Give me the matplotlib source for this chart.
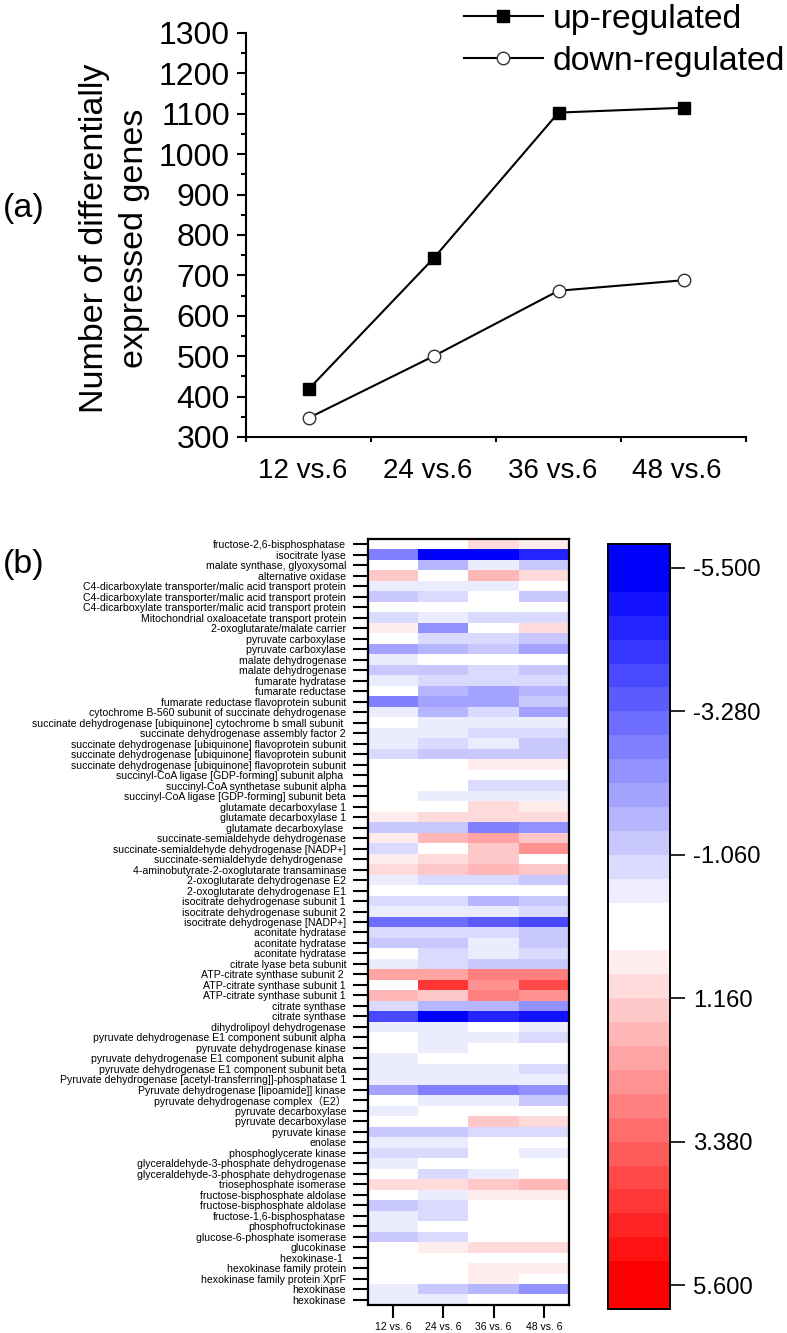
import matplotlib
matplotlib.use("Agg")
import matplotlib.pyplot as plt
import numpy as np
from matplotlib.colors import BoundaryNorm, ListedColormap

plt.rcParams["font.family"] = ["Liberation Sans", "Noto Sans CJK SC", "DejaVu Sans"]

W, H = 787, 1333

# panel a
time_labels = ["12 vs.6", "24 vs.6", "36 vs.6", "48 vs.6"]
up_regulated = [418, 742, 1103, 1115]
down_regulated = [347, 500, 662, 688]
y_ticks = [300, 400, 500, 600, 700, 800, 900, 1000, 1100, 1200, 1300]

# panel b
gene_labels = [
    "fructose-2,6-bisphosphatase", "isocitrate lyase", "malate synthase, glyoxysomal", "alternative oxidase",
    "C4-dicarboxylate transporter/malic acid transport protein", "C4-dicarboxylate transporter/malic acid transport protein",
    "C4-dicarboxylate transporter/malic acid transport protein", "Mitochondrial oxaloacetate transport protein",
    "2-oxoglutarate/malate carrier", "pyruvate carboxylase", "pyruvate carboxylase", "malate dehydrogenase",
    "malate dehydrogenase", "fumarate hydratase", "fumarate reductase", "fumarate reductase flavoprotein subunit",
    "cytochrome B-560 subunit of succinate dehydrogenase", "succinate dehydrogenase [ubiquinone] cytochrome b small subunit ",
    "succinate dehydrogenase assembly factor 2", "succinate dehydrogenase [ubiquinone] flavoprotein subunit",
    "succinate dehydrogenase [ubiquinone] flavoprotein subunit", "succinate dehydrogenase [ubiquinone] flavoprotein subunit",
    "succinyl-CoA ligase [GDP-forming] subunit alpha ", "succinyl-CoA synthetase subunit alpha",
    "succinyl-CoA ligase [GDP-forming] subunit beta", "glutamate decarboxylase 1", "glutamate decarboxylase 1",
    "glutamate decarboxylase ", "succinate-semialdehyde dehydrogenase", "succinate-semialdehyde dehydrogenase [NADP+]",
    "succinate-semialdehyde dehydrogenase ", "4-aminobutyrate-2-oxoglutarate transaminase", "2-oxoglutarate dehydrogenase E2",
    "2-oxoglutarate dehydrogenase E1", "isocitrate dehydrogenase subunit 1", "isocitrate dehydrogenase subunit 2",
    "isocitrate dehydrogenase [NADP+]", "aconitate hydratase", "aconitate hydratase", "aconitate hydratase",
    "citrate lyase beta subunit", "ATP-citrate synthase subunit 2 ", "ATP-citrate synthase subunit 1",
    "ATP-citrate synthase subunit 1", "citrate synthase", "citrate synthase", "dihydrolipoyl dehydrogenase",
    "pyruvate dehydrogenase E1 component subunit alpha", "pyruvate dehydrogenase kinase",
    "pyruvate dehydrogenase E1 component subunit alpha ", "pyruvate dehydrogenase E1 component subunit beta",
    "Pyruvate dehydrogenase [acetyl-transferring]]-phosphatase 1", "Pyruvate dehydrogenase [lipoamide]] kinase",
    "pyruvate dehydrogenase complex\uff08E2\uff09", "pyruvate decarboxylase", "pyruvate decarboxylase", "pyruvate kinase",
    "enolase", "phosphoglycerate kinase", "glyceraldehyde-3-phosphate dehydrogenase",
    "glyceraldehyde-3-phosphate dehydrogenase", "triosephosphate isomerase", "fructose-bisphosphate aldolase",
    "fructose-bisphosphate aldolase", "fructose-1,6-bisphosphatase", "phosphofructokinase", "glucose-6-phosphate isomerase",
    "glucokinase", "hexokinase-1 ", "hexokinase family protein", "hexokinase family protein XprF", "hexokinase", "hexokinase",
]
heat_columns = ["12 vs. 6", "24 vs. 6", "36 vs. 6", "48 vs. 6"]
h12 = [0, -2.7, 0, 1.3, -0.5, -1.2, 0, -0.9, 0.6, 0, -2.0, -0.5, -1.2, -0.5, 0, -2.7, -0.5, 0, -0.5, -0.5, -0.9, 0, 0, 0, 0,
       0, 0.6, -1.2, 0.6, -0.9, 0.6, 1.0, -0.5, 0, -0.9, -0.5, -3.1, -0.9, -1.2, 0, -0.5, 2.1, 0, 1.7, -0.9, -3.8, -0.5, 0, 0,
       -0.5, -0.5, -0.5, -2.0, 0, -0.5, 0, -1.2, -0.5, -0.9, -0.5, 0, 1.0, 0, -1.2, -0.5, -0.5, -1.2, 0, 0, 0, 0, -0.5, -0.5]
h24 = [0, -5.5, -1.6, 0, -0.5, -0.9, 0, -0.5, -2.4, -0.9, -1.6, 0, -1.2, -0.9, -1.6, -2.0, -1.6, -0.5, -0.5, -0.9, -1.2, 0, 0, 0, -0.5,
       0, 1.0, -1.2, 1.7, 0, 1.0, 1.3, -0.9, 0, -0.9, -0.5, -3.1, -0.9, -1.2, -0.9, -0.9, 2.1, 4.3, 1.3, -1.6, -5.5, -0.5, -0.5, -0.5,
       0, -0.5, -0.5, -2.7, -0.5, 0, 0, -1.2, -0.5, -0.9, 0, -0.9, 1.0, -0.5, -0.9, -0.9, 0, -0.9, 0.6, 0, 0, 0, -1.2, -0.5]
h36 = [1.0, -5.5, -0.5, 1.7, -0.5, 0, 0, -0.9, 0, -0.9, -1.2, 0, -0.9, -0.9, -2.0, -2.0, -0.9, -0.5, -0.9, -0.5, -1.2, 0.6, 0, -0.9, -0.5,
       1.0, 1.0, -2.7, 2.1, 1.3, 1.3, 1.7, -0.9, 0, -1.6, -0.5, -3.5, -0.9, -0.5, -0.5, -1.2, 2.8, 2.5, 2.8, -1.6, -4.6, 0, -0.5, 0,
       0, -0.5, -0.5, -2.7, -0.5, 0, 1.3, -0.9, 0, 0, 0, -0.5, 1.3, 0.6, 0, 0, 0, 0, 1.0, 0, 0.6, 0.6, -1.6, 0]
h48 = [0.6, -4.6, -1.2, 1.0, 0, -1.2, 0, -0.9, 1.0, -1.2, -2.0, 0, -1.2, -0.9, -1.6, -1.2, -2.0, -0.5, -0.9, -1.2, -1.2, 0.6, 0, -0.9, -0.5,
       0.6, 1.0, -2.4, 1.3, 2.5, 0, 1.3, -1.2, 0, -1.2, -0.9, -3.8, -1.2, -1.2, -0.9, -1.2, 2.8, 3.9, 2.5, -2.4, -4.9, -0.5, -0.9, 0,
       0, -0.9, -0.5, -2.4, -1.2, 0, 1.0, -0.9, 0, -0.5, 0, 0, 1.7, 0.6, 0, 0, 0, 0, 1.0, 0, 0.6, 0, -2.4, 0]
colorbar_ticks = [-5.5, -3.28, -1.06, 1.16, 3.38, 5.6]
colorbar_edges = [-5.87, -5.13, -4.76, -4.39, -4.02, -3.65, -3.28, -2.91, -2.54, -2.17, -1.8, -1.43, -1.06, -0.69, -0.32,
                  0.42, 0.79, 1.16, 1.53, 1.9, 2.27, 2.64, 3.01, 3.38, 3.75, 4.12, 4.49, 4.86, 5.23, 5.97]


def axes_px(fig, left, top, right, bottom):
    return fig.add_axes([left / W, 1 - bottom / H, (right - left) / W, (bottom - top) / H])


fig = plt.figure(figsize=(W / 100, H / 100), dpi=100)

# line chart, categories sit between the x ticks
ax = axes_px(fig, 246, 33, 746, 437)
xs = np.arange(len(time_labels))
ax.plot(xs, up_regulated, color="black", lw=1.5, marker="s", ms=8.6, mfc="black", mec="black", label="up-regulated")
ax.plot(xs, down_regulated, color="black", lw=1.5, marker="o", ms=9, mfc="white", mec="#333333", mew=1.0, label="down-regulated")
ax.set_xlim(-0.5, 3.5)
ax.set_ylim(300, 1300)
ax.set_xticks(np.arange(-0.5, 4))
ax.set_xticklabels([])
# labels sit a little left of the markers in the original
ax.set_xticks(xs - 0.05, time_labels, minor=True)
ax.set_yticks(y_ticks)
ax.set_yticks(np.arange(350, 1300, 100), minor=True)
ax.spines[["top", "right"]].set_visible(False)
ax.spines[["left", "bottom"]].set_linewidth(1.5)
ax.tick_params(axis="y", which="major", labelsize=23, length=6.5, width=1.5, pad=5)
ax.tick_params(axis="y", which="minor", length=3.6, width=1.5)
ax.tick_params(axis="x", which="major", length=3.6, width=1.5)
ax.tick_params(axis="x", which="minor", labelsize=20, length=0, pad=15)
ax.set_ylabel("Number of differentially\nexpressed genes", fontsize=24.5, linespacing=1.36)
ax.yaxis.set_label_coords(-0.192, 0.4926)
fig.legend(loc="upper left", bbox_to_anchor=(464 / W, 0.997), frameon=False, fontsize=24.3, handlelength=2.34,
           handletextpad=0.3, labelspacing=0.33, borderpad=0, borderaxespad=0)

fig.text(3 / W, 1 - 208 / H, "(a)", fontsize=24.5, va="center")
fig.text(3 / W, 1 - 565 / H, "(b)", fontsize=24.5, va="center")

# heatmap
colors = []
n_side = 14
for i in range(n_side, 0, -1):
    c = 1 - i / n_side
    colors.append((c, c, 1))
colors.append((1, 1, 1))
for i in range(1, n_side + 1):
    c = 1 - i / n_side
    colors.append((1, c, c))
cmap = ListedColormap(colors)
norm = BoundaryNorm(colorbar_edges, cmap.N)

heat = np.column_stack([h12, h24, h36, h48])
ax2 = axes_px(fig, 368, 539, 569, 1305)
mesh = ax2.imshow(heat, cmap=cmap, norm=norm, aspect="auto", interpolation="nearest")
ax2.set_yticks(np.arange(len(gene_labels)), gene_labels)
ax2.set_xticks(np.arange(len(heat_columns)), heat_columns)
ax2.tick_params(axis="y", labelsize=7.6, length=10.8, width=1.5, pad=5)
ax2.tick_params(axis="x", labelsize=7.5, length=9.4, width=1.5, pad=3)
for s in ax2.spines.values():
    s.set_linewidth(1.6)

# colour scale
cax = axes_px(fig, 608, 544, 670, 1309)
cb = fig.colorbar(mesh, cax=cax, boundaries=colorbar_edges, spacing="proportional", ticks=colorbar_ticks, drawedges=False)
cax.invert_yaxis()
cb.ax.set_yticklabels([f"{v:.3f}" for v in colorbar_ticks])
cb.ax.minorticks_off()
cb.ax.tick_params(labelsize=17.2, length=10.8, width=1.2, pad=5.8)
cb.outline.set_linewidth(1.4)

fig.savefig("out.png", dpi=100)
